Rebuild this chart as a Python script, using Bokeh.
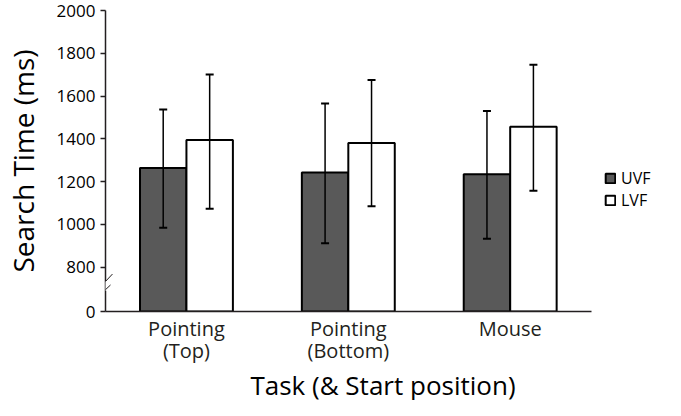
import numpy as np
from bokeh.plotting import figure
from bokeh.models import (ColumnDataSource, Range1d, FixedTicker, Whisker, TeeHead,
                          Legend, LegendItem, Arrow, Title)
from bokeh.embed import file_html
from bokeh.resources import INLINE

# ---- data ----
tasks = ["Pointing\n(Top)", "Pointing\n(Bottom)", "Mouse"]
uvf_mean = [1264, 1243, 1235]
uvf_low = [985, 912, 933]
uvf_high = [1537, 1565, 1530]
lvf_mean = [1395, 1381, 1457]
lvf_low = [1073, 1085, 1157]
lvf_high = [1701, 1675, 1746]
y_ticks = [800, 1000, 1200, 1400, 1600, 1800, 2000]

# broken axis: the "0" baseline is drawn just below 800
BASE = 593
FONT = "Open Sans"
INK = "#231f20"

idx = np.arange(1, len(tasks) + 1)
W = 0.287
src_u = ColumnDataSource(dict(x=idx - W / 2, top=uvf_mean, lo=uvf_low, hi=uvf_high))
src_l = ColumnDataSource(dict(x=idx + W / 2, top=lvf_mean, lo=lvf_low, hi=lvf_high))

FRAME_W = 560
X_END = 0.5 + FRAME_W * 3.0 / 490.0
p = figure(width=665, height=400, output_backend="svg", toolbar_location=None,
           x_range=Range1d(0.5, X_END), y_range=Range1d(BASE, 2000),
           min_border_left=100, min_border_right=5, min_border_top=10,
           min_border_bottom=0)
p.outline_line_color = None
p.grid.grid_line_color = None
p.background_fill_color = "white"

r_u = p.vbar(x="x", top="top", bottom=BASE, width=W, source=src_u,
             fill_color="#595959", line_color="black", line_width=2)
r_l = p.vbar(x="x", top="top", bottom=BASE, width=W, source=src_l,
             fill_color="white", line_color="black", line_width=2)

for s in (src_u, src_l):
    w = Whisker(base="x", lower="lo", upper="hi", source=s, line_color="black",
                line_width=1.5, level="overlay",
                upper_head=TeeHead(size=8, line_color="black", line_width=2),
                lower_head=TeeHead(size=8, line_color="black", line_width=2))
    p.add_layout(w)

# axes
p.xaxis.bounds = (0.5, 3.5)
p.xaxis.ticker = FixedTicker(ticks=list(idx))
p.xaxis.major_label_overrides = {int(i): t for i, t in zip(idx, tasks)}
p.xaxis.major_tick_line_color = None
p.xaxis.major_tick_in = 0
p.xaxis.major_tick_out = 0
p.xaxis.minor_tick_line_color = None
p.xaxis.axis_line_color = INK
p.xaxis.axis_line_width = 1.5
p.xaxis.major_label_text_font = FONT
p.xaxis.major_label_text_font_size = "20px"
p.xaxis.major_label_text_line_height = 0.85
p.xaxis.major_label_text_color = INK
p.xaxis.major_label_standoff = 3

xtitle = Title(text="Task (& Start position)", align="center", standoff=-5,
               offset=-8, text_font=FONT, text_font_size="26px",
               text_font_style="normal", text_color="black")
p.add_layout(xtitle, "below")

p.yaxis.ticker = FixedTicker(ticks=[BASE] + y_ticks)
p.yaxis.major_label_overrides = {BASE: "0"}
p.yaxis.minor_tick_line_color = None
p.yaxis.major_tick_in = 0
p.yaxis.major_tick_out = 5
p.yaxis.major_tick_line_color = INK
p.yaxis.major_tick_line_width = 1.5
p.yaxis.axis_line_color = INK
p.yaxis.axis_line_width = 1.5
p.yaxis.major_label_text_font = FONT
p.yaxis.major_label_text_font_size = "17px"
p.yaxis.major_label_text_color = "black"
p.yaxis.major_label_standoff = 5
p.yaxis.axis_label = "Search Time (ms)"
p.yaxis.axis_label_text_font = FONT
p.yaxis.axis_label_text_font_size = "28px"
p.yaxis.axis_label_text_font_style = "normal"
p.yaxis.axis_label_text_color = "black"
p.yaxis.axis_label_standoff = 12

# axis-break marks
p.add_layout(Arrow(end=None, x_start=0.5, y_start=690, x_end=0.5, y_end=735,
                   line_color="white", line_width=3))
p.add_layout(Arrow(end=None, x_start=0.451, y_start=694, x_end=0.543, y_end=768,
                   line_color=INK, line_width=1))
p.add_layout(Arrow(end=None, x_start=0.433, y_start=648, x_end=0.531, y_end=717,
                   line_color=INK, line_width=1))

legend = Legend(items=[LegendItem(label="UVF", renderers=[r_u]),
                       LegendItem(label="LVF", renderers=[r_l])],
                location=(499, 100), border_line_color=None,
                background_fill_alpha=0,
                label_text_font=FONT, label_text_font_size="16px",
                label_text_color="black", label_height=19,
                glyph_width=12, glyph_height=12, spacing=-1, padding=2, margin=0,
                label_standoff=5)
p.add_layout(legend, "center")

open("out.html", "w").write(file_html(p, INLINE))
